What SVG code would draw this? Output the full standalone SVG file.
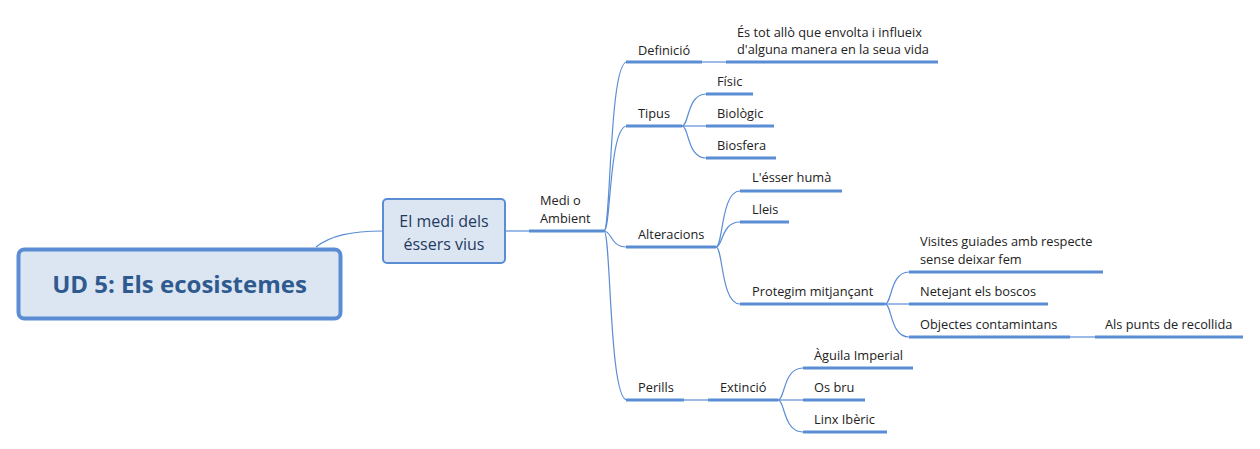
<svg xmlns="http://www.w3.org/2000/svg" width="1260" height="449" viewBox="0 0 1260 449">
<style>
.c{fill:none;stroke:#5b8dd5;stroke-width:1.2}
.u{stroke:#5b8dd5;stroke-width:3;fill:none}
.t{font-family:"Open Sans","DejaVu Sans",sans-serif;font-size:12.8px;fill:#222}
.n2{font-family:"Open Sans","DejaVu Sans",sans-serif;font-size:16px;fill:#1f3a5f}
.r{font-family:"Open Sans","DejaVu Sans",sans-serif;font-size:24px;font-weight:bold;fill:#2f5a8f}
</style>
<rect width="1260" height="449" fill="#fff"/>
<g id="connectors">
<path class="c" d="M316,247 C330,236 350,231 383,231"/>
<path class="c" d="M505,231 L530,231"/>
<path class="c" d="M604,231 C611,231 609,62 627,62"/>
<path class="c" d="M604,231 C611,231 609,126 627,126"/>
<path class="c" d="M604,231 C612,231 610,247 627,247"/>
<path class="c" d="M604,231 C611,231 609,400 627,400"/>
<path class="c" d="M702,62 L726,62"/>
<path class="c" d="M682,126 C689,126 687,94 706,94"/>
<path class="c" d="M682,126 L706,126"/>
<path class="c" d="M682,126 C689,126 687,158 706,158"/>
<path class="c" d="M716,247 C723,247 721,191 740,191"/>
<path class="c" d="M716,247 C723,247 721,222 740,222"/>
<path class="c" d="M716,247 C723,247 721,304 740,304"/>
<path class="c" d="M885,304 C892,304 890,272 909,272"/>
<path class="c" d="M885,304 L909,304"/>
<path class="c" d="M885,304 C892,304 890,337 909,337"/>
<path class="c" d="M1070,337 L1095,337"/>
<path class="c" d="M684,400 L708,400"/>
<path class="c" d="M778,400 C785,400 783,368 803,368"/>
<path class="c" d="M778,400 L803,400"/>
<path class="c" d="M778,400 C785,400 783,432 803,432"/>
</g>
<g id="root">
<rect x="18.5" y="249.5" width="322" height="69" rx="6" fill="#dce6f2" stroke="#5b8dd5" stroke-width="4"/>
<text class="r" x="179.5" y="293" text-anchor="middle">UD 5: Els ecosistemes</text>
</g>
<g id="medi-dels-essers">
<rect x="383" y="199" width="122" height="64" rx="4" fill="#dce6f2" stroke="#5b8dd5" stroke-width="2"/>
<text class="n2" x="444" y="227" text-anchor="middle">El medi dels</text>
<text class="n2" x="444" y="249.5" text-anchor="middle">éssers vius</text>
</g>
<g id="medi-ambient">
<line class="u" x1="529" y1="231" x2="604" y2="231"/>
<text class="t" x="540" y="205">Medi o</text>
<text class="t" x="540" y="223">Ambient</text>
</g>
<g id="definicio">
<line class="u" x1="626" y1="62" x2="702" y2="62"/>
<text class="t" x="638" y="55">Definició</text>
</g>
<g id="definicio-text">
<line class="u" x1="726" y1="62" x2="938" y2="62"/>
<text class="t" x="737" y="37">És tot allò que envolta i influeix</text>
<text class="t" x="737" y="54">d'alguna manera en la seua vida</text>
</g>
<g id="tipus">
<line class="u" x1="626" y1="126" x2="682" y2="126"/>
<text class="t" x="638" y="118">Tipus</text>
</g>
<g id="fisic">
<line class="u" x1="706" y1="94" x2="753" y2="94"/>
<text class="t" x="717" y="86">Físic</text>
</g>
<g id="biologic">
<line class="u" x1="706" y1="126" x2="774" y2="126"/>
<text class="t" x="717" y="118">Biològic</text>
</g>
<g id="biosfera">
<line class="u" x1="706" y1="158" x2="776" y2="158"/>
<text class="t" x="717" y="150">Biosfera</text>
</g>
<g id="alteracions">
<line class="u" x1="626" y1="247" x2="716" y2="247"/>
<text class="t" x="638" y="239">Alteracions</text>
</g>
<g id="esser-huma">
<line class="u" x1="740" y1="191" x2="842" y2="191"/>
<text class="t" x="752" y="182">L'ésser humà</text>
</g>
<g id="lleis">
<line class="u" x1="740" y1="222" x2="789" y2="222"/>
<text class="t" x="752" y="214">Lleis</text>
</g>
<g id="protegim">
<line class="u" x1="740" y1="304" x2="885" y2="304"/>
<text class="t" x="752" y="296">Protegim mitjançant</text>
</g>
<g id="visites">
<line class="u" x1="909" y1="272" x2="1103" y2="272"/>
<text class="t" x="920" y="246">Visites guiades amb respecte</text>
<text class="t" x="920" y="264">sense deixar fem</text>
</g>
<g id="netejant">
<line class="u" x1="909" y1="304" x2="1048" y2="304"/>
<text class="t" x="920" y="296">Netejant els boscos</text>
</g>
<g id="objectes">
<line class="u" x1="909" y1="337" x2="1070" y2="337"/>
<text class="t" x="920" y="329">Objectes contamintans</text>
</g>
<g id="punts-recollida">
<line class="u" x1="1095" y1="337" x2="1243" y2="337"/>
<text class="t" x="1105" y="329">Als punts de recollida</text>
</g>
<g id="perills">
<line class="u" x1="626" y1="400" x2="684" y2="400"/>
<text class="t" x="638" y="392">Perills</text>
</g>
<g id="extincio">
<line class="u" x1="708" y1="400" x2="778" y2="400"/>
<text class="t" x="720" y="392">Extinció</text>
</g>
<g id="aguila">
<line class="u" x1="803" y1="368" x2="913" y2="368"/>
<text class="t" x="814" y="360">Àguila Imperial</text>
</g>
<g id="os-bru">
<line class="u" x1="803" y1="400" x2="865" y2="400"/>
<text class="t" x="814" y="392">Os bru</text>
</g>
<g id="linx">
<line class="u" x1="803" y1="432" x2="887" y2="432"/>
<text class="t" x="814" y="424">Linx Ibèric</text>
</g>
</svg>
